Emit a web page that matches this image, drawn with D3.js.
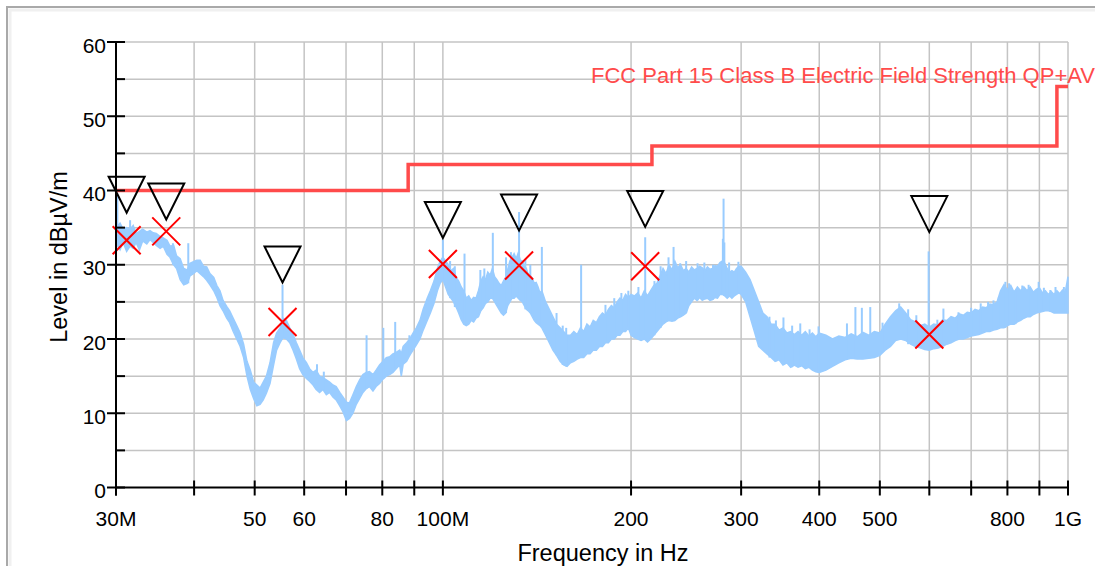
<!DOCTYPE html>
<html>
<head>
<meta charset="utf-8">
<script src="https://cdn.jsdelivr.net/npm/d3@7/dist/d3.min.js"></script>
<style>
  html, body { margin: 0; padding: 0; background: #fff; }
  svg { display: block; font-family: "Liberation Sans", Arial, sans-serif; }
</style>
</head>
<body>
<div id="chart"></div>
<script>
// Peak scan, one row per frequency bin: [MHz, min dBµV/m, max dBµV/m]
const scanTrace = [
  [30.0, 33.0, 36.8], [30.2, 32.5, 35.2], [30.45, 32.0, 35.6], [30.8, 33.0, 34.8], [31.2, 31.8, 35.0],
  [31.6, 32.5, 34.8], [31.96, 32.2, 35.3], [32.3, 33.0, 34.2], [32.7, 32.0, 34.5], [33.1, 33.2, 34.8],
  [33.6, 32.8, 34.4], [34.0, 33.4, 34.6], [34.4, 33.0, 34.3], [34.8, 32.6, 34.2], [35.3, 32.2, 33.8],
  [35.7, 32.5, 33.6], [36.2, 31.4, 33.3], [36.6, 31.0, 32.5], [37.1, 30.0, 32.6], [37.5, 29.5, 31.2],
  [38.0, 28.0, 30.8], [38.5, 27.3, 29.5], [39.0, 27.5, 29.3], [39.4, 28.5, 30.2], [39.9, 28.8, 30.4],
  [40.4, 29.2, 30.6], [40.9, 28.8, 30.6], [41.4, 28.4, 29.8], [41.9, 27.9, 29.7], [42.4, 27.3, 28.8],
  [43.0, 26.5, 28.3], [43.5, 25.6, 27.2], [44.0, 24.5, 26.5], [44.5, 23.8, 25.2], [45.1, 22.8, 24.4],
  [45.6, 22.2, 23.8], [46.2, 21.0, 22.8], [46.8, 20.0, 21.8], [47.4, 19.0, 20.8], [48.0, 17.5, 19.3],
  [48.6, 15.0, 17.0], [49.2, 13.2, 15.8], [49.8, 12.0, 14.2], [50.4, 11.0, 13.8], [51.0, 11.2, 13.4],
  [51.6, 11.8, 14.2], [52.2, 12.7, 15.0], [52.9, 14.0, 16.8], [53.6, 16.5, 19.5], [54.2, 18.5, 20.8],
  [54.9, 19.5, 21.5], [55.5, 20.2, 22.8], [56.2, 20.0, 22.5], [56.9, 19.5, 21.5], [57.6, 18.5, 20.6],
  [58.3, 17.3, 19.5], [59.0, 16.0, 18.5], [59.7, 15.2, 17.5], [60.5, 14.7, 16.8], [61.2, 14.3, 16.0],
  [62.0, 13.8, 15.5], [62.7, 13.2, 15.8], [63.5, 12.8, 15.0], [64.3, 13.2, 14.8], [65.1, 12.5, 14.5],
  [65.9, 12.8, 14.2], [66.7, 12.2, 13.8], [67.5, 11.8, 13.6], [68.4, 11.0, 12.8], [69.2, 10.2, 12.2],
  [70.1, 9.0, 11.5], [70.9, 9.3, 11.4], [71.8, 10.0, 12.5], [72.7, 11.2, 13.6], [73.6, 12.0, 14.5],
  [74.5, 12.8, 15.2], [75.4, 13.3, 15.5], [76.3, 13.6, 15.6], [77.3, 13.0, 15.2], [78.2, 13.6, 15.8],
  [79.2, 14.0, 16.5], [80.2, 14.6, 17.0], [81.2, 15.0, 17.5], [82.2, 15.2, 17.6], [83.2, 15.5, 18.0],
  [84.2, 16.0, 18.2], [85.3, 16.5, 18.5], [85.8, 15.0, 18.0], [86.4, 16.6, 19.0], [87.5, 17.0, 19.5],
  [88.5, 17.8, 20.0], [89.6, 18.5, 20.8], [90.7, 19.2, 21.5], [91.9, 20.0, 22.5], [93.0, 21.2, 24.0],
  [94.4, 22.5, 25.5], [95.5, 23.5, 26.5], [96.8, 24.8, 27.8], [98.0, 26.5, 29.5], [99.0, 27.5, 30.5],
  [100, 28.0, 31.0], [101, 27.0, 30.5], [102, 26.0, 30.0], [103, 25.5, 29.2], [104, 25.0, 29.5],
  [105, 24.3, 28.3], [106, 23.5, 27.8], [107, 22.6, 27.0], [108, 22.0, 26.5], [109, 21.8, 25.5],
  [110, 22.0, 25.8], [111, 22.5, 25.2], [112, 22.3, 25.6], [113, 22.8, 25.5], [114, 23.0, 26.5],
  [115, 23.8, 27.8], [116, 24.2, 28.4], [117, 24.8, 28.0], [118, 25.0, 29.0], [119, 25.5, 28.6],
  [120, 25.5, 29.5], [121, 25.0, 28.4], [122, 24.5, 28.0], [123, 24.0, 27.5], [124, 23.5, 27.2],
  [125, 23.2, 27.8], [126, 23.5, 28.3], [127, 24.5, 29.4], [128, 25.0, 30.5], [129, 25.5, 31.0],
  [130, 25.5, 31.5], [131, 25.8, 30.8], [132, 25.5, 31.6], [133, 25.2, 30.6], [134, 25.0, 30.5],
  [135, 24.5, 29.8], [136, 24.0, 29.5], [137, 23.8, 28.6], [138, 23.5, 28.5], [139, 23.0, 28.2],
  [140, 22.5, 27.5], [141, 22.2, 27.6], [142, 22.0, 27.0], [143, 21.8, 26.2], [144, 21.5, 26.5],
  [146, 20.5, 25.0], [148, 19.5, 24.0], [150, 18.5, 23.0], [152, 17.8, 22.0], [154, 17.0, 21.5],
  [156, 16.5, 21.0], [158, 16.3, 20.5], [160, 16.8, 20.5], [162, 17.0, 21.0], [164, 17.3, 20.6],
  [166, 17.5, 21.5], [168, 17.5, 21.0], [170, 18.0, 22.0], [172, 18.0, 21.6], [174, 18.5, 22.5],
  [176, 18.5, 22.2], [178, 19.0, 23.0], [180, 19.0, 23.5], [182, 19.5, 23.2], [184, 19.5, 24.0],
  [186, 20.0, 24.5], [188, 20.0, 24.2], [190, 20.5, 25.0], [192, 20.5, 25.5], [194, 21.0, 25.2],
  [196, 21.0, 26.0], [198, 21.5, 25.6], [200, 20.5, 26.0], [202.5, 20.2, 25.8], [205, 20.0, 26.2],
  [207.5, 19.8, 25.5], [210, 20.0, 26.5], [212.5, 19.6, 25.8], [215, 20.0, 26.5], [217.5, 20.5, 27.2],
  [220, 21.0, 27.5], [222.5, 21.5, 28.5], [225, 22.0, 29.5], [227.5, 22.3, 28.8], [230, 22.5, 30.0],
  [232.5, 22.4, 29.3], [235, 22.5, 30.5], [237.5, 22.8, 29.6], [240, 23.0, 30.0], [242.5, 23.2, 29.2],
  [245, 23.5, 29.5], [247.5, 24.5, 29.0], [250, 25.0, 29.7], [252.5, 25.5, 29.3], [255, 25.2, 29.5],
  [257.5, 25.6, 29.8], [260, 25.2, 29.6], [262.5, 25.4, 29.2], [265, 25.5, 29.7], [267.5, 25.2, 29.4],
  [270, 25.3, 29.5], [272.5, 25.6, 29.9], [275, 25.5, 29.8], [277.5, 26.0, 30.3], [280, 26.0, 30.5],
  [282.5, 25.8, 30.2], [285, 25.5, 29.5], [287.5, 25.8, 29.0], [290, 25.5, 29.2], [292.5, 25.8, 29.0],
  [295, 26.0, 29.5], [297.5, 26.2, 29.8], [300, 26.0, 29.8], [305, 25.0, 29.0], [310, 23.0, 28.0],
  [315, 21.0, 26.5], [320, 19.0, 25.0], [325, 18.5, 23.5], [330, 18.0, 23.0], [335, 17.5, 22.0],
  [340, 17.0, 22.0], [345, 17.2, 21.2], [350, 16.5, 21.5], [355, 16.8, 20.8], [360, 16.2, 21.0],
  [365, 16.5, 20.6], [370, 16.2, 21.0], [375, 16.4, 20.5], [380, 16.0, 21.0], [385, 16.2, 20.4],
  [390, 15.8, 20.8], [395, 15.6, 20.3], [400, 15.5, 20.8], [410, 15.8, 20.5], [420, 16.3, 20.0],
  [430, 16.8, 20.4], [440, 17.2, 20.2], [450, 17.4, 20.7], [460, 17.3, 20.3], [470, 17.3, 20.9],
  [480, 17.4, 20.5], [490, 17.5, 21.0], [500, 17.8, 20.8], [510, 18.5, 22.0], [520, 19.0, 23.0],
  [530, 19.8, 23.8], [540, 20.0, 24.3], [550, 19.8, 23.5], [560, 19.3, 22.6], [570, 19.0, 22.3],
  [580, 18.8, 21.8], [590, 18.6, 22.0], [600, 18.5, 21.6], [610, 18.7, 22.0], [620, 18.8, 21.9],
  [630, 19.0, 22.6], [640, 19.3, 22.5], [650, 19.5, 23.0], [660, 19.8, 22.8], [670, 20.0, 23.4],
  [680, 20.0, 23.2], [690, 20.2, 23.6], [700, 20.4, 23.5], [710, 20.5, 24.0], [720, 20.6, 23.8],
  [730, 20.8, 24.3], [740, 21.0, 24.2], [750, 21.0, 24.7], [760, 21.2, 24.6], [770, 21.3, 25.0],
  [780, 21.5, 26.5], [790, 21.5, 27.3], [800, 21.8, 26.6], [810, 22.0, 27.2], [820, 22.0, 26.3],
  [830, 22.3, 27.0], [840, 22.5, 26.5], [850, 22.8, 27.0], [860, 23.0, 26.5], [870, 23.0, 27.0],
  [880, 23.3, 26.3], [890, 23.5, 26.7], [900, 23.6, 26.9], [910, 23.7, 26.2], [920, 23.8, 26.5],
  [930, 23.8, 26.0], [940, 23.7, 26.4], [950, 23.5, 26.0], [960, 23.5, 26.5], [970, 23.5, 26.1],
  [980, 23.5, 26.6], [990, 23.5, 26.3], [1000, 23.5, 28.4]
]

// Narrow carriers above the noise floor: [MHz, dBµV/m]
const scanSpikes = [
  [30.15, 39.6], [31.6, 36.0], [37.0, 32.9], [39.15, 32.9], [55.4, 27.3], [62.9, 16.6],
  [64.5, 15.6], [75.5, 20.5], [80.3, 21.5], [83.9, 22.3], [88.4, 20.5], [100, 33.4],
  [102.7, 30.5], [104.5, 29.8], [108.3, 31.5], [114.8, 29.3], [116.5, 29.5], [120.2, 34.3],
  [126.2, 31.0], [128.5, 31.7], [132.4, 37.1], [135.5, 30.8], [138, 30.0], [144, 32.4],
  [152, 23.5], [155.5, 21.8], [157.5, 21.5], [166.4, 30.0], [182, 24.6], [188, 25.5],
  [193, 26.2], [198, 26.5], [205.5, 27.0], [210.7, 33.7], [218, 27.8], [223, 29.8],
  [229.6, 31.0], [233.9, 32.4], [239.7, 30.2], [245, 30.5], [255.5, 30.2], [262, 30.3],
  [270.5, 30.0], [280.5, 33.5], [281.2, 38.9], [282, 33.0], [287, 30.3], [297, 30.4],
  [333, 23.0], [341, 22.5], [350.6, 22.9], [362, 21.8], [373, 22.1], [386, 21.3],
  [399, 21.7], [443, 22.1], [457, 24.3], [468, 24.2], [482.7, 24.3], [505, 22.2],
  [537, 24.8], [555, 24.0], [572, 23.2], [598.5, 31.8], [618, 22.6], [632, 24.1],
  [668, 23.6], [700, 24.2], [725, 24.8], [745, 25.0], [760, 25.2], [775, 25.6],
  [794, 27.7], [805, 27.5], [824, 26.6], [845, 27.2], [865, 27.3], [897.6, 27.7],
  [915, 26.9], [937, 26.6], [955, 27.0], [985, 27.0]
]

// FCC Part 15 Class B radiated limit, stepped
const limitFreq = [30, 88, 88, 216, 216, 960, 960, 1000]
const limitLevel = [40, 40, 43.5, 43.5, 46, 46, 54, 54]
const limitName = 'FCC Part 15 Class B Electric Field Strength QP+AV'

// Peak search (triangles) and final measurement (crosses)
const peakFreq = [31.2, 36.1, 55.4, 100, 132.4, 210.7, 600]
const peakLevel = [37.0, 36.1, 27.6, 33.6, 34.6, 35.1, 34.4]
const finalLevel = [33.3, 34.5, 22.3, 30.1, 29.9, 29.8, 20.6]

const gridFreq = [40, 50, 60, 70, 80, 90, 100, 200, 300, 400, 500, 600, 700, 800, 900, 1000]
const freqTicks = [30, 50, 60, 80, 100, 200, 300, 400, 500, 800, 1000]
const freqTickLabels = ['30M', '50', '60', '80', '100M', '200', '300', '400', '500', '800', '1G']
const levelTicks = [0, 10, 20, 30, 40, 50, 60]

const width = 1095, height = 566
const fontSize = 21
const titleSize = 23.5
const traceColor = '#99ccff'
const limitColor = '#ff4b4b'

const svg = d3.select('#chart').append('svg')
  .attr('width', width)
  .attr('height', height)

const x = d3.scaleLog().domain([30, 1000]).range([116, 1068])
const y = d3.scaleLinear().domain([0, 60]).range([487.5, 42])

// outer frame
svg.append('rect')
  .attr('x', 10).attr('y', 10).attr('width', width).attr('height', height)
  .attr('fill', 'none').attr('stroke', '#f0f0f0').attr('stroke-width', 3)
svg.append('rect')
  .attr('x', 7).attr('y', 7).attr('width', width).attr('height', height)
  .attr('fill', 'none').attr('stroke', '#a9a9a9').attr('stroke-width', 2)

// grid
const grid = svg.append('g').attr('stroke', '#c4c4c4').attr('stroke-width', 1.5)
grid.selectAll('.hgrid')
  .data(d3.range(5, 61, 5))
  .join('line')
  .attr('x1', x(30)).attr('x2', x(1000))
  .attr('y1', d => y(d)).attr('y2', d => y(d))
grid.selectAll('.vgrid')
  .data(gridFreq)
  .join('line')
  .attr('x1', d => x(d)).attr('x2', d => x(d))
  .attr('y1', y(0)).attr('y2', y(60))

// scan trace: min/max band, then the carriers on top
const band = d3.area()
  .x(d => x(d[0]))
  .y0(d => y(d[1]))
  .y1(d => y(d[2]))
svg.append('path')
  .datum(scanTrace)
  .attr('d', band)
  .attr('fill', traceColor)
  .attr('stroke', traceColor)
  .attr('stroke-width', 1.5)
  .attr('stroke-linejoin', 'miter')

const binAt = d3.bisector(d => d[0]).center
svg.append('g')
  .selectAll('line')
  .data(scanSpikes)
  .join('line')
  .attr('x1', d => x(d[0])).attr('x2', d => x(d[0]))
  .attr('y1', d => y(scanTrace[binAt(scanTrace, d[0])][1]))
  .attr('y2', d => y(d[1]))
  .attr('stroke', traceColor)
  .attr('stroke-width', 2)

// limit line
const limitLine = d3.line()
  .x(d => x(d[0]))
  .y(d => y(d[1]))
svg.append('path')
  .datum(limitFreq.map((f, i) => [f, limitLevel[i]]))
  .attr('d', limitLine)
  .attr('fill', 'none')
  .attr('stroke', limitColor)
  .attr('stroke-width', 3.5)

svg.append('text')
  .attr('x', 591)
  .attr('y', 83)
  .attr('fill', limitColor)
  .attr('font-size', 22)
  .text(limitName)

// markers
const marks = peakFreq.map((f, i) => ({ f, peak: peakLevel[i], final: finalLevel[i] }))
svg.append('g')
  .selectAll('path')
  .data(marks)
  .join('path')
  .attr('d', d => {
    const px = x(d.f), py = y(d.peak)
    return `M${px - 18},${py - 36}L${px + 18},${py - 36}L${px},${py}Z`
  })
  .attr('fill', 'none')
  .attr('stroke', '#000')
  .attr('stroke-width', 2)

svg.append('g')
  .selectAll('path')
  .data(marks)
  .join('path')
  .attr('d', d => {
    const px = x(d.f), py = y(d.final), r = 14
    return `M${px - r},${py - r}L${px + r},${py + r}M${px - r},${py + r}L${px + r},${py - r}`
  })
  .attr('fill', 'none')
  .attr('stroke', '#ff0000')
  .attr('stroke-width', 2)

// axes
const yAxis = svg.append('g').attr('stroke', '#000').attr('stroke-width', 2)
yAxis.append('line')
  .attr('x1', x(30)).attr('x2', x(30))
  .attr('y1', y(60)).attr('y2', y(0) + 8)
yAxis.selectAll('.major')
  .data(levelTicks)
  .join('line')
  .attr('x1', x(30) - 9).attr('x2', x(30) + 9)
  .attr('y1', d => y(d)).attr('y2', d => y(d))
yAxis.selectAll('.minor')
  .data(d3.range(5, 60, 10))
  .join('line')
  .attr('class', 'minor')
  .attr('x1', x(30)).attr('x2', x(30) + 9)
  .attr('y1', d => y(d)).attr('y2', d => y(d))

svg.append('g')
  .selectAll('text')
  .data(levelTicks)
  .join('text')
  .attr('x', 106)
  .attr('y', d => y(d))
  .attr('dy', '0.5em')
  .attr('text-anchor', 'end')
  .attr('font-size', fontSize)
  .text(d => d)

const xAxis = svg.append('g').attr('stroke', '#000').attr('stroke-width', 2)
xAxis.append('line')
  .attr('x1', x(30)).attr('x2', x(1000))
  .attr('y1', y(0)).attr('y2', y(0))
xAxis.selectAll('.tick')
  .data([30, ...gridFreq])
  .join('line')
  .attr('x1', d => x(d)).attr('x2', d => x(d))
  .attr('y1', d => d === 30 ? y(0) : y(0) - 7)
  .attr('y2', y(0) + 8)

svg.append('g')
  .selectAll('text')
  .data(freqTicks)
  .join('text')
  .attr('x', d => x(d))
  .attr('y', 525.5)
  .attr('text-anchor', 'middle')
  .attr('font-size', fontSize)
  .text((d, i) => freqTickLabels[i])

svg.append('text')
  .attr('x', 603)
  .attr('y', 561)
  .attr('text-anchor', 'middle')
  .attr('font-size', titleSize)
  .text('Frequency in Hz')

svg.append('text')
  .attr('transform', 'translate(67,257) rotate(-90)')
  .attr('text-anchor', 'middle')
  .attr('font-size', titleSize)
  .text('Level in dBµV/m')
</script>
</body>
</html>
